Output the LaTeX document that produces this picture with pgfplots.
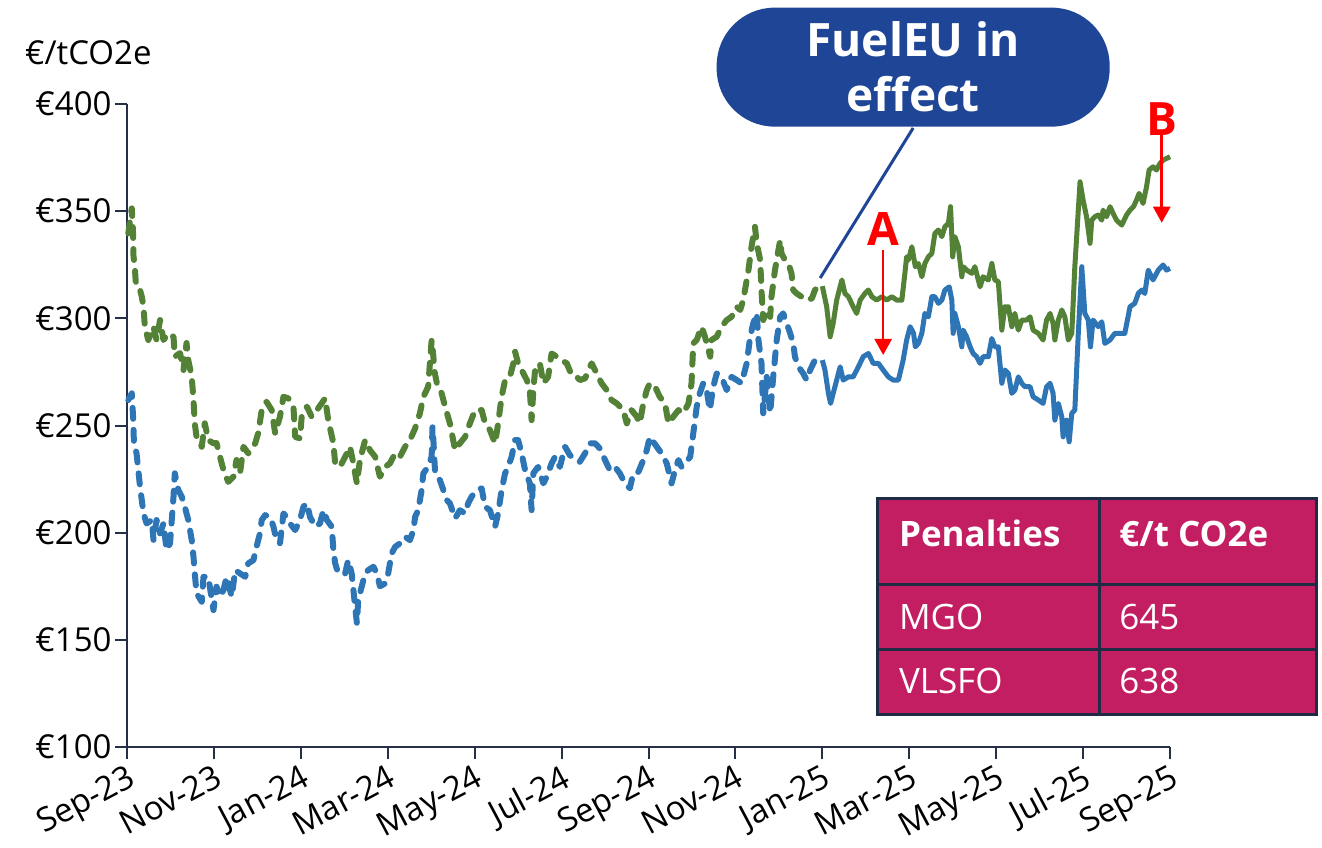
\documentclass[border=0pt]{standalone}
\usepackage{fontspec}
\setmainfont{Open Sans}
\usepackage{pgfplots}
\usepackage{pgfplotstable}
\pgfplotsset{compat=1.18}
\usetikzlibrary{arrows.meta,calc}

\definecolor{sgreen}{HTML}{538135}
\definecolor{sblue}{HTML}{2E75B6}
\definecolor{axcol}{HTML}{262F45}
\definecolor{callout}{HTML}{1F4696}
\definecolor{tabfill}{HTML}{C41E63}
\definecolor{tabline}{HTML}{1F2A44}

% x = months since Sep-23, y = EUR/tCO2e
\pgfplotstableread{
x y
0.03 339.6
0.11 351.3
0.14 339.8
0.15 328.7
0.18 324.1
0.20 317.1
0.26 316.5
0.34 310.1
0.38 305.4
0.41 296.1
0.49 289.9
0.61 296.1
0.68 289.9
0.76 299.2
0.84 289.9
0.95 293.0
1.07 291.4
1.10 282.1
1.22 283.8
1.30 275.9
1.37 288.5
1.41 280.5
1.49 272.7
1.53 261.9
1.56 251.0
1.60 244.7
1.72 240.1
1.79 251.0
1.87 243.2
1.99 241.7
2.06 241.8
2.14 235.4
2.22 229.2
2.33 223.7
2.45 226.1
2.52 233.9
2.60 227.7
2.68 240.1
2.79 237.0
2.95 241.7
3.02 246.5
3.10 257.2
3.21 261.1
3.33 257.2
3.41 246.3
3.52 254.1
3.60 263.4
3.71 262.7
3.83 258.8
3.87 244.7
3.98 244.0
4.02 254.1
4.14 258.8
4.25 254.1
4.37 257.2
4.56 262.7
4.63 252.5
4.75 241.7
4.79 232.3
4.90 230.7
5.02 235.4
5.13 240.1
5.21 232.3
5.29 223.0
5.36 233.9
5.48 243.2
5.59 238.5
5.71 235.4
5.82 226.1
5.94 230.7
6.05 232.3
6.17 237.0
6.28 235.4
6.40 240.1
6.51 243.2
6.63 248.7
6.74 255.7
6.82 263.4
6.93 268.1
7.01 289.9
7.05 282.1
7.07 275.9
7.13 269.7
7.24 265.0
7.32 258.8
7.43 251.0
7.55 238.5
7.66 241.7
7.78 244.7
7.89 251.0
8.01 257.2
8.16 257.2
8.24 251.0
8.35 247.9
8.47 241.7
8.54 251.0
8.62 263.4
8.70 271.2
8.81 272.7
8.89 279.0
8.93 284.4
9.00 279.0
9.08 275.9
9.20 271.2
9.27 266.5
9.31 252.5
9.35 266.5
9.39 275.9
9.50 279.0
9.58 269.7
9.69 272.7
9.77 283.6
9.89 282.1
10.00 280.5
10.12 279.0
10.23 273.5
10.35 272.7
10.42 271.2
10.54 272.0
10.69 279.0
10.81 274.3
10.92 269.7
11.04 266.5
11.15 261.9
11.27 260.3
11.42 257.2
11.50 251.0
11.61 257.2
11.73 254.1
11.80 251.0
11.88 260.3
11.96 266.5
12.03 269.7
12.15 268.1
12.26 263.4
12.38 260.3
12.46 251.0
12.57 254.1
12.69 257.2
12.80 255.7
12.92 260.3
12.99 269.7
13.03 288.3
13.11 289.9
13.22 296.1
13.30 291.4
13.42 282.1
13.45 289.9
13.57 291.4
13.68 296.1
13.80 299.2
13.91 300.7
14.03 305.4
14.11 303.9
14.18 308.5
14.22 313.2
14.30 322.5
14.37 333.4
14.45 342.7
14.49 335.0
14.57 327.2
14.60 313.2
14.64 299.2
14.72 303.9
14.80 300.7
14.83 310.1
14.91 322.5
14.95 327.2
15.03 336.5
15.06 330.3
15.14 327.2
15.22 325.6
15.29 321.0
15.33 313.2
15.41 311.6
15.52 310.1
15.64 308.5
15.76 309.3
15.83 313.2
15.95 315.5
16.00 315.0
}\greendash

\pgfplotstableread{
x y
16.00 315.0
16.10 305.4
16.18 291.4
16.25 297.7
16.33 308.5
16.45 317.9
16.52 311.6
16.60 310.1
16.71 305.4
16.79 302.3
16.87 308.5
16.98 311.6
17.06 313.2
17.14 310.1
17.25 308.5
17.37 310.1
17.48 308.5
17.60 310.1
17.71 308.5
17.83 308.5
17.90 321.0
17.94 328.7
17.98 327.2
18.06 333.4
18.14 324.1
18.21 325.6
18.29 319.4
18.36 325.6
18.44 328.7
18.52 330.3
18.59 339.6
18.67 341.2
18.75 338.1
18.82 342.7
18.90 344.3
18.95 352.1
19.00 328.7
19.05 338.1
19.13 333.4
19.21 319.4
19.24 324.1
19.32 322.5
19.44 321.0
19.51 324.1
19.63 314.7
19.70 319.4
19.82 317.9
19.90 325.6
19.97 317.9
20.05 317.1
20.13 294.5
20.20 305.4
20.28 305.4
20.36 296.1
20.43 302.3
20.51 294.5
20.59 299.2
20.70 299.2
20.78 300.7
20.85 294.5
20.97 293.0
21.08 289.9
21.16 299.2
21.24 302.3
21.31 297.7
21.35 289.9
21.43 299.2
21.51 303.9
21.58 300.7
21.66 289.9
21.74 293.0
21.81 324.1
21.93 363.7
22.00 355.2
22.08 347.4
22.16 335.0
22.20 345.8
22.27 347.4
22.35 348.2
22.43 345.8
22.46 350.5
22.54 347.4
22.62 352.1
22.69 349.0
22.77 345.8
22.89 343.5
23.00 348.2
23.08 350.5
23.16 352.1
23.23 355.2
23.29 358.3
23.38 353.6
23.46 361.4
23.52 369.2
23.61 370.7
23.69 369.2
23.77 372.3
23.84 373.8
23.92 374.6
24.00 375.4
}\greensolid

\pgfplotstableread{
x y
0.03 261.9
0.11 265.0
0.14 254.1
0.16 241.7
0.22 237.0
0.26 229.2
0.30 221.4
0.34 215.2
0.38 209.0
0.45 204.3
0.57 205.9
0.61 196.5
0.68 205.9
0.76 199.7
0.84 204.3
0.91 191.9
0.99 195.0
1.03 205.9
1.07 216.8
1.10 227.7
1.18 219.9
1.26 216.8
1.33 212.1
1.41 205.9
1.49 196.5
1.53 188.8
1.56 181.0
1.60 171.7
1.72 167.8
1.76 179.4
1.87 179.4
1.99 163.9
2.06 174.8
2.14 170.1
2.22 173.2
2.29 179.4
2.41 170.1
2.49 182.5
2.60 181.0
2.72 179.4
2.79 185.7
2.91 187.2
2.98 193.4
3.06 199.7
3.10 205.9
3.18 208.2
3.29 207.4
3.37 202.8
3.44 196.5
3.52 195.0
3.60 209.0
3.67 207.4
3.75 204.3
3.87 201.2
3.98 205.9
4.06 212.1
4.14 213.7
4.21 207.4
4.33 202.8
4.44 204.3
4.52 210.5
4.60 205.9
4.71 202.8
4.75 191.9
4.79 185.7
4.86 181.0
5.02 181.0
5.09 187.2
5.17 181.0
5.21 173.2
5.25 165.4
5.29 157.7
5.32 168.5
5.40 174.8
5.48 181.0
5.55 182.5
5.67 184.1
5.75 181.0
5.82 175.0
5.94 176.3
6.01 181.0
6.09 190.3
6.17 193.4
6.28 195.0
6.40 198.1
6.51 196.5
6.59 201.2
6.63 207.4
6.70 210.5
6.78 219.9
6.82 227.7
6.93 230.7
7.01 235.4
7.03 249.4
7.05 243.2
7.09 227.7
7.20 224.5
7.28 219.9
7.36 215.2
7.43 213.7
7.55 206.7
7.66 210.5
7.78 209.0
7.85 213.7
7.93 216.8
8.05 219.9
8.16 220.7
8.24 212.1
8.35 210.5
8.47 202.8
8.54 209.0
8.62 219.9
8.70 227.7
8.77 230.7
8.85 235.4
8.93 243.2
9.00 243.2
9.08 237.0
9.16 229.2
9.27 223.0
9.31 210.5
9.35 227.7
9.46 230.7
9.58 223.0
9.66 226.1
9.77 232.3
9.85 235.4
9.96 230.7
10.08 240.1
10.19 236.2
10.31 233.9
10.42 233.1
10.54 237.0
10.65 241.7
10.77 241.7
10.88 239.3
11.00 233.9
11.11 229.2
11.23 230.7
11.34 227.7
11.46 223.0
11.57 220.7
11.65 227.7
11.77 228.4
11.88 233.9
11.96 238.5
12.03 244.7
12.19 240.1
12.30 237.0
12.42 232.3
12.53 223.0
12.61 229.2
12.69 233.9
12.76 230.7
12.84 232.3
12.96 235.4
13.03 246.3
13.11 258.8
13.18 265.0
13.26 269.7
13.34 266.5
13.41 257.2
13.49 268.1
13.57 274.3
13.68 272.7
13.80 266.5
13.91 272.7
14.03 271.2
14.14 269.7
14.26 279.0
14.34 291.4
14.41 297.7
14.49 302.3
14.53 289.9
14.60 279.0
14.64 255.7
14.72 272.7
14.80 255.7
14.87 272.7
14.95 289.9
15.03 300.7
15.10 302.3
15.18 297.7
15.26 293.0
15.33 288.3
15.37 282.1
15.45 277.4
15.56 274.3
15.64 271.2
15.72 275.9
15.83 280.5
16.00 280.5
}\bluedash

\pgfplotstableread{
x y
16.00 280.5
16.06 275.9
16.14 265.0
16.19 260.3
16.29 268.1
16.41 277.4
16.48 271.2
16.60 272.7
16.71 272.7
16.83 277.4
16.94 282.1
17.06 283.6
17.17 279.0
17.29 279.0
17.40 275.9
17.52 272.7
17.63 271.2
17.75 271.2
17.86 280.5
17.94 289.9
18.02 296.1
18.10 293.0
18.14 286.7
18.21 288.3
18.29 293.0
18.36 302.3
18.44 300.7
18.52 310.1
18.59 310.1
18.67 307.0
18.75 308.5
18.82 313.2
18.92 314.7
18.98 308.5
19.01 293.0
19.05 302.3
19.13 296.1
19.21 286.7
19.24 294.5
19.32 291.4
19.40 286.7
19.47 283.6
19.55 282.1
19.63 279.0
19.70 282.1
19.82 282.1
19.90 290.6
19.97 286.7
20.05 286.7
20.13 269.7
20.20 275.9
20.28 274.3
20.36 265.0
20.43 266.5
20.51 272.7
20.59 269.7
20.66 268.1
20.78 268.1
20.85 263.4
20.97 261.9
21.08 260.3
21.16 268.1
21.24 269.7
21.31 265.0
21.35 252.5
21.43 260.3
21.51 254.1
21.54 244.7
21.62 252.5
21.68 242.4
21.74 255.7
21.81 257.2
21.89 293.0
21.97 324.1
22.04 302.3
22.12 299.2
22.17 286.7
22.23 299.2
22.35 296.1
22.43 298.4
22.50 288.3
22.62 289.9
22.73 293.0
22.85 293.0
22.96 293.0
23.08 305.4
23.19 307.0
23.27 311.6
23.35 313.2
23.42 311.6
23.50 322.5
23.61 317.9
23.73 322.5
23.84 324.9
23.92 322.5
24.00 323.3
}\bluesolid

\begin{document}
\begin{tikzpicture}
\begin{axis}[
  name=ax,
  width=1043bp, height=643bp, scale only axis,
  xmin=0, xmax=24, ymin=100, ymax=400,
  clip=false,
  axis lines=left,
  axis line style={axcol, line width=2bp, -},
  xtick={0,2,...,24},
  xticklabels={Sep-23,Nov-23,Jan-24,Mar-24,May-24,Jul-24,Sep-24,Nov-24,Jan-25,Mar-25,May-25,Jul-25,Sep-25},
  ytick={100,150,...,400},
  yticklabels={€100,€150,€200,€250,€300,€350,€400},
  tick style={axcol, line width=2bp},
  major tick length=12bp,
  tick align=outside,
  /pgf/number format/assume math mode=true,
  ticklabel style={font=\fontsize{33bp}{38bp}\selectfont, text=black},
  xticklabel style={rotate=28, anchor=north east, inner sep=3bp},
]
\addplot[sgreen, line width=6bp, line cap=round, line join=round, dash pattern=on 11bp off 11bp] table[x=x,y=y] {\greendash};
\addplot[sblue, line width=6bp, line cap=round, line join=round, dash pattern=on 11bp off 11bp] table[x=x,y=y] {\bluedash};
\addplot[sgreen, line width=5bp, line join=round] table[x=x,y=y] {\greensolid};
\addplot[sblue, line width=5bp, line join=round] table[x=x,y=y] {\bluesolid};

% unit label
\node[anchor=base west, font=\fontsize{33bp}{38bp}\selectfont, inner sep=0pt] at (axis cs:-2.35,418.2) {€/tCO2e};

% callout
\draw[callout, line width=3bp] (axis cs:18.09,388.8) -- (axis cs:15.95,318.8);
\node[fill=callout, rounded corners=58bp, minimum width=393bp, minimum height=119bp, text=white,
      font=\bfseries\fontsize{46bp}{55bp}\selectfont, align=center, inner sep=0pt]
      at (axis cs:18.09,417.2) {FuelEU in\\effect};

% arrows A and B
\node[text=red, font=\bfseries\fontsize{46bp}{46bp}\selectfont, inner sep=0pt] at (axis cs:17.40,341.9) {A};
\draw[red, line width=2.5bp, -{Triangle[width=17bp,length=16bp]}] (axis cs:17.40,331.8) -- (axis cs:17.40,282.9);
\node[text=red, font=\bfseries\fontsize{46bp}{46bp}\selectfont, inner sep=0pt] at (axis cs:23.81,393.0) {B};
\draw[red, line width=2.5bp, -{Triangle[width=17bp,length=16bp]}] (axis cs:23.81,385.5) -- (axis cs:23.81,344.6);

% table
\fill[tabfill] (axis cs:17.28,115.4) rectangle (axis cs:27.36,216.1);
\draw[tabline, line width=3bp] (axis cs:17.28,115.4) rectangle (axis cs:27.36,216.1);
\draw[tabline, line width=3bp] (axis cs:17.28,175.6) -- (axis cs:27.36,175.6);
\draw[tabline, line width=3bp] (axis cs:17.28,145.7) -- (axis cs:27.36,145.7);
\draw[tabline, line width=3bp] (axis cs:22.37,115.4) -- (axis cs:22.37,216.1);
\node[anchor=base west, text=white, font=\bfseries\fontsize{35bp}{40bp}\selectfont, inner sep=0pt] at (axis cs:17.76,193.4) {Penalties};
\node[anchor=base west, text=white, font=\bfseries\fontsize{35bp}{40bp}\selectfont, inner sep=0pt] at (axis cs:22.83,193.4) {€/t CO2e};
\node[anchor=base west, text=white, font=\fontsize{35bp}{40bp}\selectfont, inner sep=0pt] at (axis cs:17.76,154.9) {MGO};
\node[anchor=base west, text=white, font=\fontsize{35bp}{40bp}\selectfont, inner sep=0pt] at (axis cs:22.83,154.9) {645};
\node[anchor=base west, text=white, font=\fontsize{35bp}{40bp}\selectfont, inner sep=0pt] at (axis cs:17.76,125.0) {VLSFO};
\node[anchor=base west, text=white, font=\fontsize{35bp}{40bp}\selectfont, inner sep=0pt] at (axis cs:22.83,125.0) {638};
\end{axis}
\pgfresetboundingbox
\path ($(ax.south west)+(-127bp,-100bp)$) rectangle ($(ax.north east)+(152bp,104bp)$);
\end{tikzpicture}
\end{document}
